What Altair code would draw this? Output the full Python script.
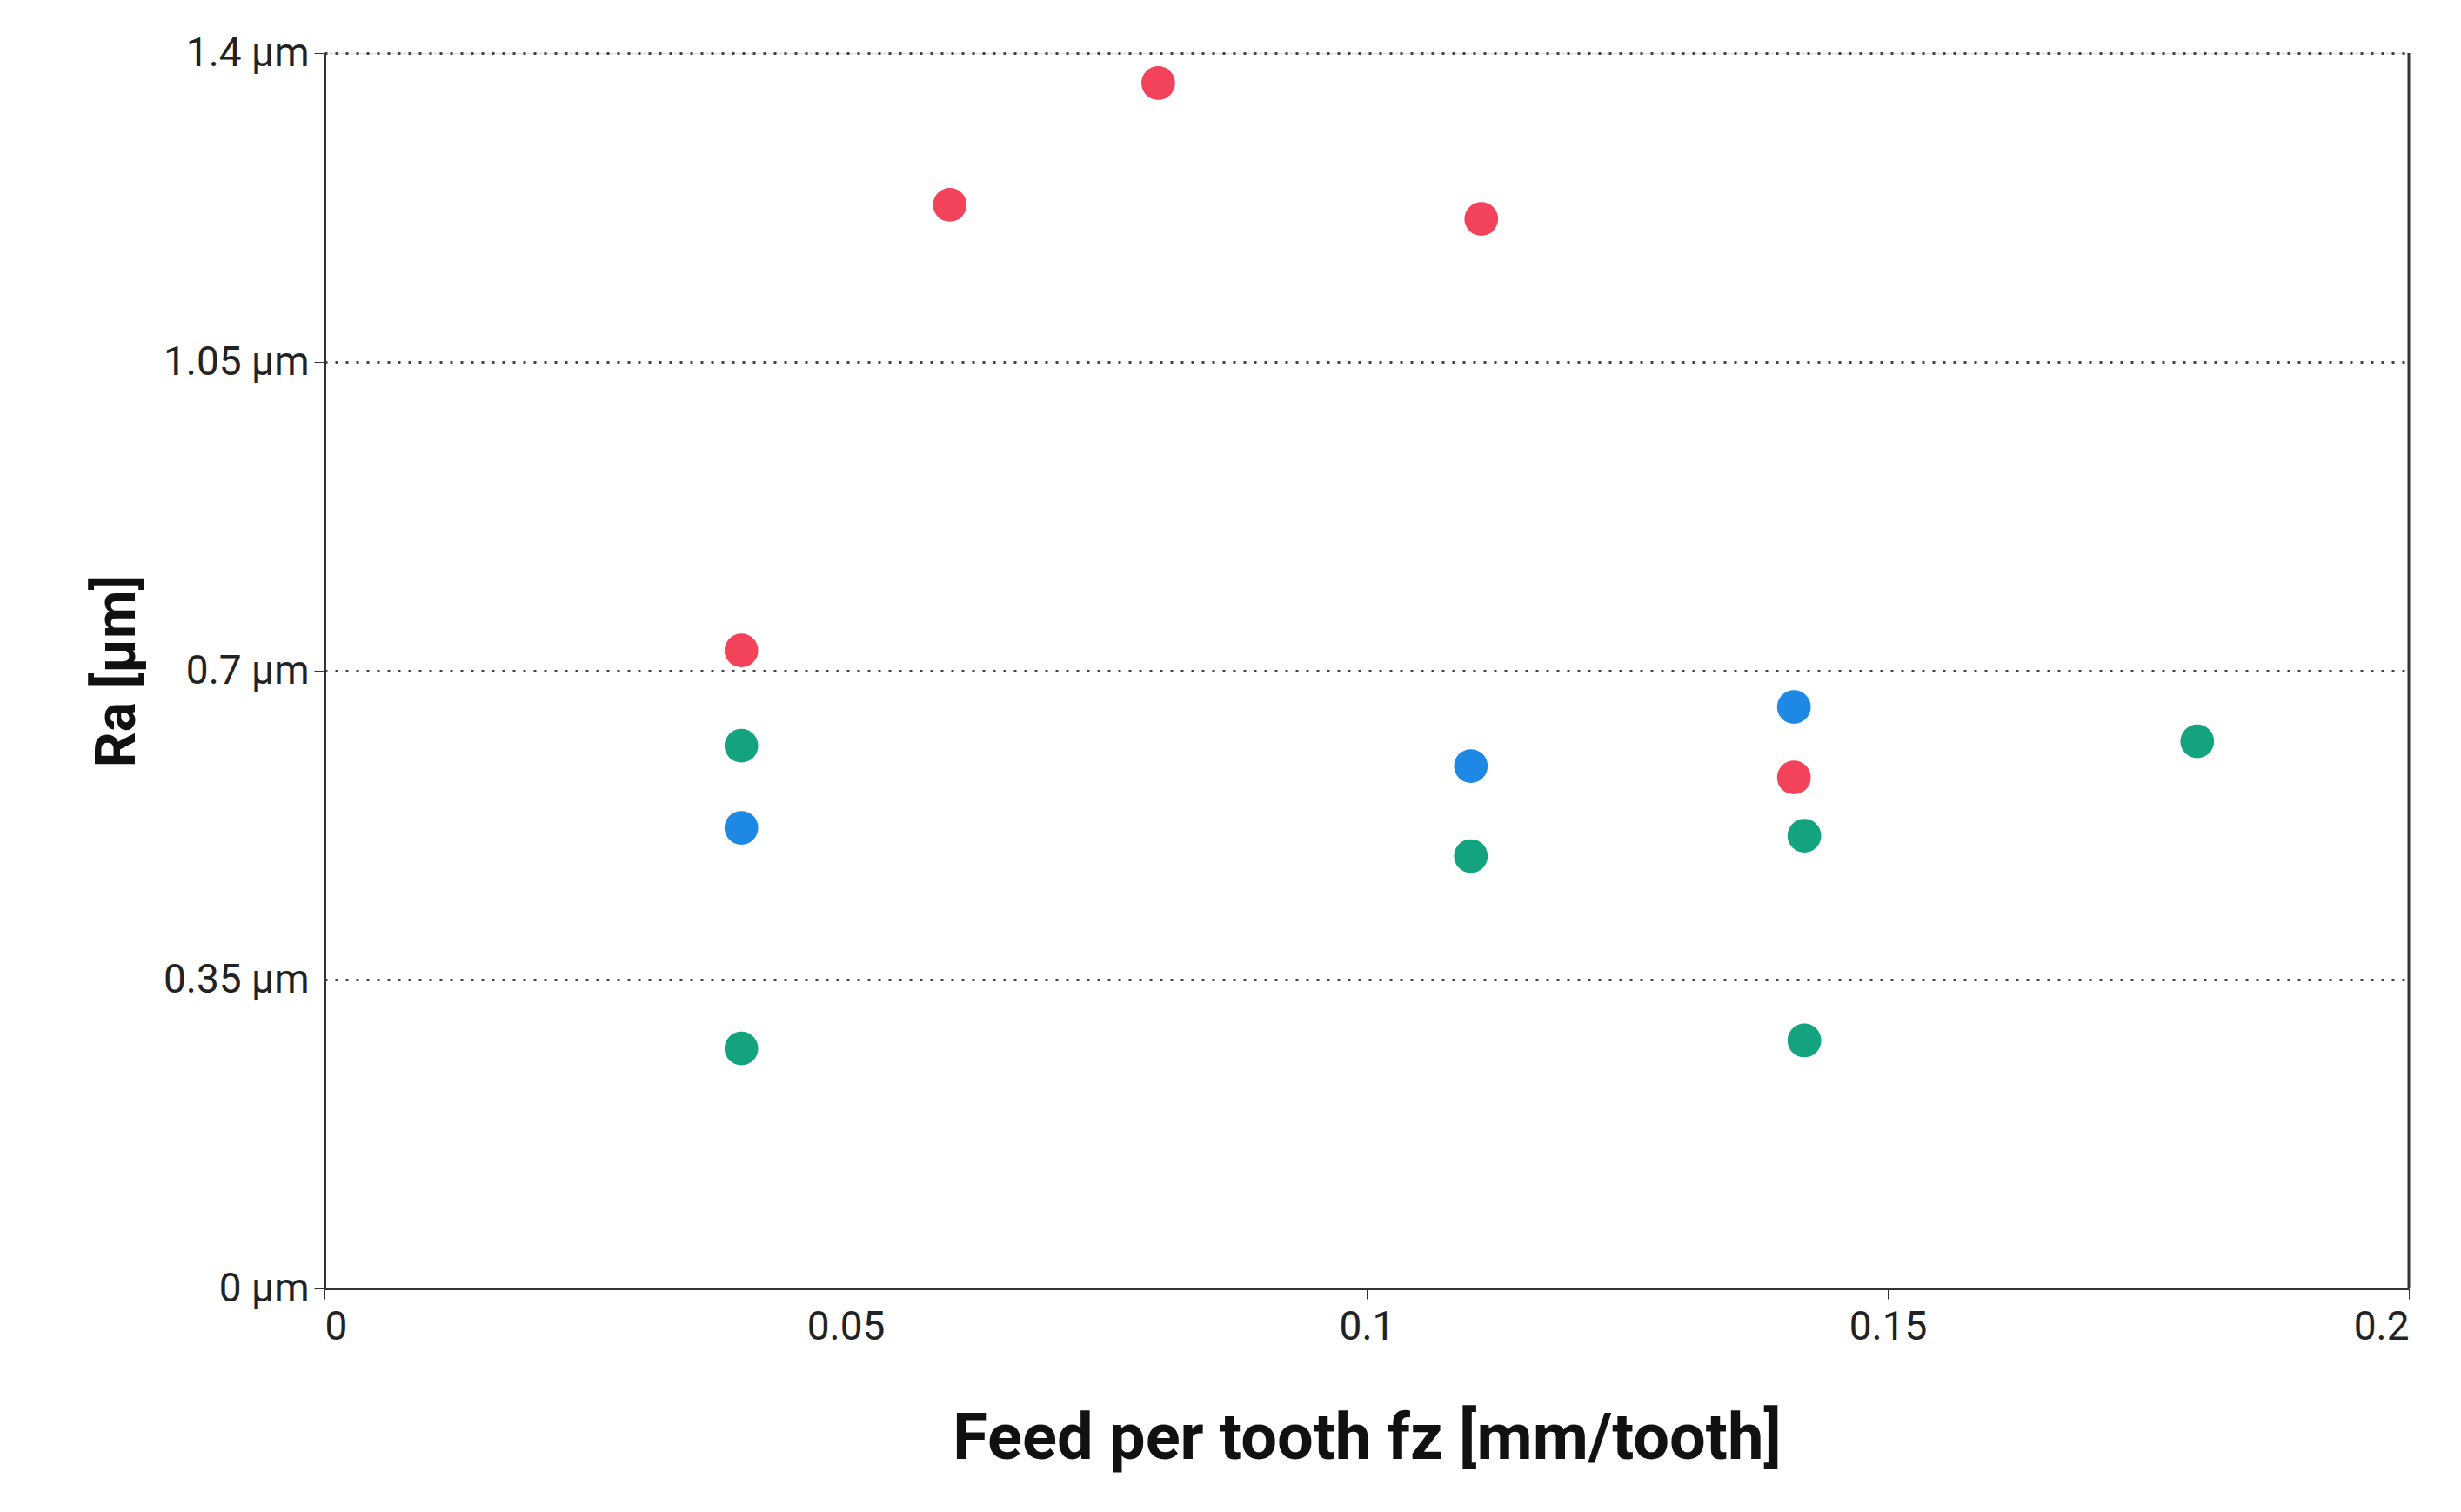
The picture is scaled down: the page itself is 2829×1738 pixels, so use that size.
import altair as alt
import pandas as pd

red_x = [0.04, 0.06, 0.08, 0.111, 0.141]
red_y = [0.723, 1.228, 1.366, 1.212, 0.579]
blue_x = [0.04, 0.11, 0.141]
blue_y = [0.522, 0.592, 0.659]
green_x = [0.04, 0.04, 0.11, 0.142, 0.142, 0.1797]
green_y = [0.615, 0.272, 0.490, 0.513, 0.281, 0.620]

rows = []
for s, xs, ys in [("red", red_x, red_y), ("blue", blue_x, blue_y), ("green", green_x, green_y)]:
    for a, b in zip(xs, ys):
        rows.append({"s": s, "x": a, "y": b})
df = pd.DataFrame(rows)

colors = alt.Scale(domain=["red", "blue", "green"], range=["#f2435a", "#1e88e5", "#14a37f"])

pts = alt.Chart(df).mark_circle(size=1500, opacity=1).encode(
    x=alt.X("x:Q", scale=alt.Scale(domain=[0, 0.2]),
            axis=alt.Axis(values=[0, 0.05, 0.1, 0.15, 0.2], labelExpr="format(datum.value, '~g')",
                          title="Feed per tooth fz [mm/tooth]",
                          grid=False, labelFontSize=46, titleFontSize=74, titleFontWeight="bold",
                          titlePadding=70, labelPadding=10, domainColor="#333", tickColor="#333",
                          tickSize=12, domainWidth=3, labelColor="#222", titleColor="#111")),
    y=alt.Y("y:Q", scale=alt.Scale(domain=[0, 1.4]),
            axis=alt.Axis(values=[0, 0.35, 0.7, 1.05, 1.4], labelExpr="datum.value + ' µm'",
                          title="Ra [µm]", labelFontSize=46, titleFontSize=64, titleFontWeight="bold",
                          titlePadding=20, labelPadding=6, grid=True, gridDash=[3, 9], gridWidth=3,
                          gridColor="#444", domainColor="#333", tickColor="#333", tickSize=12,
                          domainWidth=3, labelColor="#222", titleColor="#111")),
    color=alt.Color("s:N", scale=colors, legend=None),
)

rule = alt.Chart(pd.DataFrame({"x": [0.2]})).mark_rule(color="#333", strokeWidth=3).encode(x="x:Q")

chart = alt.layer(pts, rule).properties(
    width=2396, height=1420,
    padding={"left": 95, "top": 30, "right": 5, "bottom": 5},
).configure_view(stroke=None).configure(font="Roboto")
chart.save("out.html", embed_options={"renderer": "svg", "actions": False})
